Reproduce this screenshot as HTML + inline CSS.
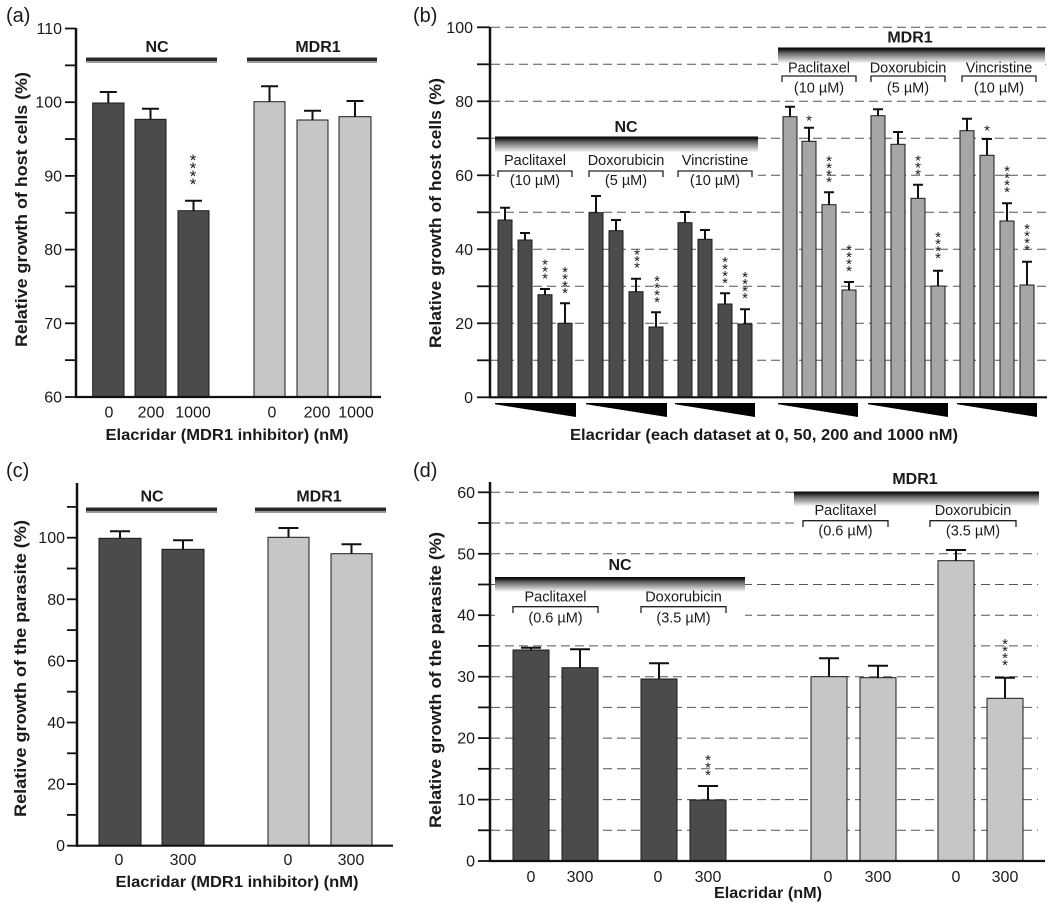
<!DOCTYPE html>
<html><head><meta charset="utf-8"><style>
html,body{margin:0;padding:0;background:#fff;}
svg{display:block;}
text{font-family:"Liberation Sans",Arial,sans-serif;fill:#1a1a1a;}
.t{font-size:16px;}
.b{font-weight:bold;font-size:16px;}
.d{font-size:14.5px;}
.s{fill:#444;}
.g{stroke:#555;stroke-width:1;stroke-dasharray:9 5;}
.ax{stroke:#111;fill:none;}
.dk{fill:#4b4b4b;stroke:#1a1a1a;stroke-width:1;}
.lt{fill:#c6c6c6;stroke:#1a1a1a;stroke-width:1;}
.md{fill:#a6a6a6;stroke:#1a1a1a;stroke-width:1;}
.e{stroke:#111;stroke-width:2;fill:none;}
.br{stroke:#222;stroke-width:1.3;fill:none;}
</style></head><body>
<svg width="1050" height="905" viewBox="0 0 1050 905" xmlns="http://www.w3.org/2000/svg">
<defs>
<linearGradient id="gr" x1="0" y1="0" x2="0" y2="1">
<stop offset="0" stop-color="#000"/><stop offset="0.15" stop-color="#222"/><stop offset="0.35" stop-color="#666"/><stop offset="1" stop-color="#fff"/>
</linearGradient>
</defs>

<!-- ================= Panel (a) ================= -->
<text x="6" y="22" style="font-size:20px">(a)</text>
<g class="ax" stroke-width="1.8">
<line x1="65" y1="397" x2="76" y2="397"/><line x1="65" y1="360.15" x2="76" y2="360.15"/>
<line x1="65" y1="323.3" x2="76" y2="323.3"/><line x1="65" y1="286.45" x2="76" y2="286.45"/>
<line x1="65" y1="249.6" x2="76" y2="249.6"/><line x1="65" y1="212.75" x2="76" y2="212.75"/>
<line x1="65" y1="175.9" x2="76" y2="175.9"/><line x1="65" y1="139.05" x2="76" y2="139.05"/>
<line x1="65" y1="102.2" x2="76" y2="102.2"/><line x1="65" y1="65.35" x2="76" y2="65.35"/>
<line x1="65" y1="28.5" x2="76" y2="28.5"/>
</g>
<g class="t" text-anchor="end">
<text x="62" y="402.5">60</text><text x="62" y="328.8">70</text><text x="62" y="255.1">80</text>
<text x="62" y="181.4">90</text><text x="62" y="107.7">100</text><text x="62" y="34">110</text>
</g>
<rect x="86" y="57.5" width="131" height="3.5" fill="#2a2a2a"/><rect x="86" y="61" width="131" height="2" fill="#999"/>
<rect x="247" y="57.5" width="130" height="3.5" fill="#2a2a2a"/><rect x="247" y="61" width="130" height="2" fill="#999"/>
<text class="b" x="157" y="52" text-anchor="middle">NC</text>
<text class="b" x="318" y="52" text-anchor="middle">MDR1</text>
<rect class="dk" x="92.7" y="103" width="31.3" height="294"/>
<rect class="dk" x="135" y="119.3" width="31" height="277.7"/>
<rect class="dk" x="178" y="210.7" width="31" height="186.3"/>
<rect class="lt" x="254" y="101.7" width="31" height="295.3"/>
<rect class="lt" x="297" y="120" width="31" height="277"/>
<rect class="lt" x="339" y="116.7" width="32" height="280.3"/>
<path class="e" d="M108.3,103V92M99.8,92H116.8 M150.5,119.3V108.7M142,108.7H159 M193.5,210.7V200.7M185,200.7H202 M269.5,101.7V86.3M261,86.3H278 M312.5,120V110.7M304,110.7H321 M355,116.7V101M346.5,101H363.5"/>
<g class="s" text-anchor="middle" style="font-size:17px">
<text x="193" y="166">*</text><text x="193" y="174">*</text><text x="193" y="182">*</text><text x="193" y="190">*</text>
</g>
<line class="ax" x1="76" y1="28" x2="76" y2="398" stroke-width="2.5"/>
<line class="ax" x1="75" y1="397" x2="381" y2="397" stroke-width="2.2"/>
<g class="t" text-anchor="middle">
<text x="109" y="417.5">0</text><text x="151" y="417.5">200</text><text x="193" y="417.5">1000</text>
<text x="272" y="417.5">0</text><text x="317" y="417.5">200</text><text x="356" y="417.5">1000</text>
</g>
<text class="b" x="227" y="440" text-anchor="middle" textLength="243" lengthAdjust="spacingAndGlyphs">Elacridar (MDR1 inhibitor) (nM)</text>
<text class="b" transform="translate(27,209.5) rotate(-90)" x="0" y="0" text-anchor="middle" style="font-size:17px" textLength="275" lengthAdjust="spacingAndGlyphs">Relative growth of host cells (%)</text>

<!-- ================= Panel (b) ================= -->
<text x="413" y="22" style="font-size:20px">(b)</text>
<g class="g">
<line x1="491" y1="360.3" x2="1047" y2="360.3"/><line x1="491" y1="323.3" x2="1047" y2="323.3"/>
<line x1="491" y1="286.3" x2="1047" y2="286.3"/><line x1="491" y1="249.3" x2="1047" y2="249.3"/>
<line x1="491" y1="212.3" x2="1047" y2="212.3"/><line x1="491" y1="175.3" x2="1047" y2="175.3"/>
<line x1="491" y1="138.3" x2="1047" y2="138.3"/><line x1="491" y1="101.3" x2="1047" y2="101.3"/>
<line x1="491" y1="64.3" x2="1047" y2="64.3"/><line x1="491" y1="27.3" x2="1047" y2="27.3"/>
</g>
<g class="ax" stroke-width="1.8">
<line x1="477" y1="397.3" x2="490" y2="397.3"/><line x1="477" y1="360.3" x2="490" y2="360.3"/>
<line x1="477" y1="323.3" x2="490" y2="323.3"/><line x1="477" y1="286.3" x2="490" y2="286.3"/>
<line x1="477" y1="249.3" x2="490" y2="249.3"/><line x1="477" y1="212.3" x2="490" y2="212.3"/>
<line x1="477" y1="175.3" x2="490" y2="175.3"/><line x1="477" y1="138.3" x2="490" y2="138.3"/>
<line x1="477" y1="101.3" x2="490" y2="101.3"/><line x1="477" y1="64.3" x2="490" y2="64.3"/>
<line x1="477" y1="27.3" x2="490" y2="27.3"/>
</g>
<g class="t" text-anchor="end">
<text x="473" y="402.8">0</text><text x="473" y="328.8">20</text><text x="473" y="254.8">40</text>
<text x="473" y="180.8">60</text><text x="473" y="106.8">80</text><text x="473" y="32.8">100</text>
</g>
<!-- label boxes -->
<rect x="495" y="136.5" width="263" height="58" fill="#fff"/>
<rect x="495" y="136.5" width="263" height="16" fill="url(#gr)"/>
<rect x="778" y="47.5" width="267" height="50" fill="#fff"/>
<rect x="778" y="47.5" width="267" height="16" fill="url(#gr)"/>
<text class="b" x="626" y="132" text-anchor="middle">NC</text>
<text class="b" x="910" y="42.7" text-anchor="middle">MDR1</text>
<g class="d" text-anchor="middle">
<text x="535" y="165">Paclitaxel</text><text x="535" y="185">(10 µM)</text>
<text x="626" y="165">Doxorubicin</text><text x="626" y="185">(5 µM)</text>
<text x="715" y="165">Vincristine</text><text x="715" y="185">(10 µM)</text>
<text x="819" y="72.7">Paclitaxel</text><text x="819" y="92.5">(10 µM)</text>
<text x="908" y="72.7">Doxorubicin</text><text x="908" y="92.5">(5 µM)</text>
<text x="999" y="72.7">Vincristine</text><text x="999" y="92.5">(10 µM)</text>
</g>
<path class="br" d="M498,177V171H572V177 M589,177V171H663V177 M678,177V171H752V177 M782,82V76H856V82 M871,82V76H945V82 M962,82V76H1036V82"/>
<!-- NC bars -->
<g>
<rect class="dk" x="498" y="220" width="14" height="177.3"/>
<rect class="dk" x="518" y="240" width="14" height="157.3"/>
<rect class="dk" x="538" y="294.7" width="14" height="102.6"/>
<rect class="dk" x="558" y="323.3" width="14" height="74"/>
<rect class="dk" x="589" y="212.7" width="14" height="184.6"/>
<rect class="dk" x="609" y="230.7" width="14" height="166.6"/>
<rect class="dk" x="629" y="291.7" width="14" height="105.6"/>
<rect class="dk" x="649" y="327" width="14" height="70.3"/>
<rect class="dk" x="678" y="222.7" width="14" height="174.6"/>
<rect class="dk" x="698" y="239.3" width="14" height="158"/>
<rect class="dk" x="718" y="304" width="14" height="93.3"/>
<rect class="dk" x="738" y="324" width="14" height="73.3"/>
</g>
<path class="e" d="M505,220V207.7M500,207.7H510 M525,240V233M520,233H530 M545,294.7V289M540,289H550 M565,323.3V303.3M560,303.3H570 M596,212.7V196M591,196H601 M616,230.7V220M611,220H621 M636,291.7V278.7M631,278.7H641 M656,327V312.3M651,312.3H661 M685,222.7V212M680,212H690 M705,239.3V230M700,230H710 M725,304V293.3M720,293.3H730 M745,324V309.3M740,309.3H750"/>
<!-- MDR1 bars -->
<g>
<rect class="md" x="783" y="116.7" width="14" height="280.6"/>
<rect class="md" x="802" y="141.3" width="14" height="256"/>
<rect class="md" x="822" y="204.7" width="14" height="192.6"/>
<rect class="md" x="842" y="290" width="14" height="107.3"/>
<rect class="md" x="871" y="115.7" width="14" height="281.6"/>
<rect class="md" x="891" y="144.3" width="14" height="253"/>
<rect class="md" x="911" y="198.3" width="14" height="199"/>
<rect class="md" x="931" y="286" width="14" height="111.3"/>
<rect class="md" x="960" y="130.7" width="14" height="266.6"/>
<rect class="md" x="980" y="155.3" width="14" height="242"/>
<rect class="md" x="1000" y="221" width="14" height="176.3"/>
<rect class="md" x="1020" y="285" width="14" height="112.3"/>
</g>
<path class="e" d="M790,116.7V106.7M785,106.7H795 M809,141.3V127.7M804,127.7H814 M829,204.7V192.3M824,192.3H834 M849,290V282M844,282H854 M878,115.7V109.3M873,109.3H883 M898,144.3V132M893,132H903 M918,198.3V184.7M913,184.7H923 M938,286V270.7M933,270.7H943 M967,130.7V118.7M962,118.7H972 M987,155.3V139M982,139H992 M1007,221V203.3M1002,203.3H1012 M1027,285V261.7M1022,261.7H1032"/>
<!-- asterisks b -->
<g class="s" text-anchor="middle" style="font-size:15px">
<text x="545" y="269.5">*</text><text x="545" y="276.5">*</text><text x="545" y="283.5">*</text>
<text x="565" y="277">*</text><text x="565" y="284">*</text><text x="565" y="291">*</text><text x="565" y="298">*</text>
<text x="637" y="259.5">*</text><text x="637" y="266">*</text><text x="637" y="272.5">*</text>
<text x="657" y="286">*</text><text x="657" y="293">*</text><text x="657" y="300">*</text><text x="657" y="307">*</text>
<text x="725" y="267">*</text><text x="725" y="274">*</text><text x="725" y="281">*</text><text x="725" y="288">*</text>
<text x="745" y="282">*</text><text x="745" y="289">*</text><text x="745" y="296">*</text><text x="745" y="303">*</text>
<text x="809" y="125.5">*</text>
<text x="829" y="166">*</text><text x="829" y="173">*</text><text x="829" y="180">*</text><text x="829" y="187">*</text>
<text x="849" y="255">*</text><text x="849" y="262">*</text><text x="849" y="269">*</text><text x="849" y="276">*</text>
<text x="918" y="165.5">*</text><text x="918" y="172.5">*</text><text x="918" y="179.5">*</text>
<text x="938" y="242">*</text><text x="938" y="249">*</text><text x="938" y="256">*</text><text x="938" y="263">*</text>
<text x="987" y="135.5">*</text>
<text x="1007" y="176">*</text><text x="1007" y="183">*</text><text x="1007" y="190">*</text><text x="1007" y="197">*</text>
<text x="1027" y="234">*</text><text x="1027" y="241">*</text><text x="1027" y="248">*</text><text x="1027" y="255">*</text>
</g>
<line class="ax" x1="490" y1="27" x2="490" y2="398" stroke-width="2.5"/>
<line class="ax" x1="489" y1="397.3" x2="1047" y2="397.3" stroke-width="2.2"/>
<g fill="#000">
<polygon points="495,403 576,403 576,417 495,404.3"/>
<polygon points="586,403 667,403 667,417 586,404.3"/>
<polygon points="675,403 755,403 755,417 675,404.3"/>
<polygon points="778,403 858,403 858,417 778,404.3"/>
<polygon points="868,403 948,403 948,417 868,404.3"/>
<polygon points="957,403 1037,403 1037,417 957,404.3"/>
</g>
<text class="b" x="764" y="440" text-anchor="middle" textLength="388" lengthAdjust="spacingAndGlyphs">Elacridar (each dataset at 0, 50, 200 and 1000 nM)</text>
<text class="b" transform="translate(441,213) rotate(-90)" x="0" y="0" text-anchor="middle" style="font-size:17px" textLength="270" lengthAdjust="spacingAndGlyphs">Relative growth of host cells (%)</text>

<!-- ================= Panel (c) ================= -->
<text x="6" y="477" style="font-size:20px">(c)</text>
<g class="ax" stroke-width="1.8">
<line x1="67" y1="845.7" x2="77" y2="845.7"/><line x1="67" y1="814.9" x2="77" y2="814.9"/>
<line x1="67" y1="784.1" x2="77" y2="784.1"/><line x1="67" y1="753.3" x2="77" y2="753.3"/>
<line x1="67" y1="722.5" x2="77" y2="722.5"/><line x1="67" y1="691.7" x2="77" y2="691.7"/>
<line x1="67" y1="660.9" x2="77" y2="660.9"/><line x1="67" y1="630.1" x2="77" y2="630.1"/>
<line x1="67" y1="599.3" x2="77" y2="599.3"/><line x1="67" y1="568.5" x2="77" y2="568.5"/>
<line x1="67" y1="537.7" x2="77" y2="537.7"/><line x1="67" y1="506.9" x2="77" y2="506.9"/>
</g>
<g class="t" text-anchor="end">
<text x="65" y="851.2">0</text><text x="65" y="789.6">20</text><text x="65" y="728">40</text>
<text x="65" y="666.4">60</text><text x="65" y="604.8">80</text><text x="65" y="543.2">100</text>
</g>
<rect x="86" y="507.5" width="131" height="3.5" fill="#2a2a2a"/><rect x="86" y="511" width="131" height="2" fill="#999"/>
<rect x="255" y="507.5" width="131" height="3.5" fill="#2a2a2a"/><rect x="255" y="511" width="131" height="2" fill="#999"/>
<text class="b" x="152" y="501.7" text-anchor="middle">NC</text>
<text class="b" x="319" y="501.7" text-anchor="middle">MDR1</text>
<rect class="dk" x="99" y="538.3" width="42" height="307.4"/>
<rect class="dk" x="162" y="549.3" width="42" height="296.4"/>
<rect class="lt" x="268" y="537.3" width="41" height="308.4"/>
<rect class="lt" x="331" y="553.7" width="41" height="292"/>
<path class="e" d="M120,538.3V531.3M110,531.3H130 M183,549.3V540.3M173,540.3H193 M288.5,537.3V528M278.5,528H298.5 M351.5,553.7V544.3M341.5,544.3H361.5"/>
<line class="ax" x1="77" y1="483" x2="77" y2="847" stroke-width="2.5"/>
<line class="ax" x1="76" y1="845.7" x2="393" y2="845.7" stroke-width="2.2"/>
<g class="t" text-anchor="middle">
<text x="119" y="865">0</text><text x="183" y="865">300</text>
<text x="288" y="865">0</text><text x="351" y="865">300</text>
</g>
<text class="b" x="237" y="887" text-anchor="middle" textLength="243" lengthAdjust="spacingAndGlyphs">Elacridar (MDR1 inhibitor) (nM)</text>
<text class="b" transform="translate(26,668.5) rotate(-90)" x="0" y="0" text-anchor="middle" style="font-size:17px" textLength="297" lengthAdjust="spacingAndGlyphs">Relative growth of the parasite (%)</text>

<!-- ================= Panel (d) ================= -->
<text x="413" y="477" style="font-size:20px">(d)</text>
<g class="g">
<line x1="491" y1="830.3" x2="1038" y2="830.3"/><line x1="491" y1="799.6" x2="1038" y2="799.6"/>
<line x1="491" y1="768.8" x2="1038" y2="768.8"/><line x1="491" y1="738.1" x2="1038" y2="738.1"/>
<line x1="491" y1="707.4" x2="1038" y2="707.4"/><line x1="491" y1="676.7" x2="1038" y2="676.7"/>
<line x1="491" y1="645.9" x2="1038" y2="645.9"/><line x1="491" y1="615.2" x2="1038" y2="615.2"/>
<line x1="491" y1="584.5" x2="1038" y2="584.5"/><line x1="491" y1="553.8" x2="1038" y2="553.8"/>
<line x1="491" y1="523" x2="1038" y2="523"/><line x1="491" y1="492.3" x2="1038" y2="492.3"/>
</g>
<g class="ax" stroke-width="1.8">
<line x1="478" y1="861" x2="490" y2="861"/><line x1="478" y1="830.3" x2="490" y2="830.3"/>
<line x1="478" y1="799.6" x2="490" y2="799.6"/><line x1="478" y1="768.8" x2="490" y2="768.8"/>
<line x1="478" y1="738.1" x2="490" y2="738.1"/><line x1="478" y1="707.4" x2="490" y2="707.4"/>
<line x1="478" y1="676.7" x2="490" y2="676.7"/><line x1="478" y1="645.9" x2="490" y2="645.9"/>
<line x1="478" y1="615.2" x2="490" y2="615.2"/><line x1="478" y1="584.5" x2="490" y2="584.5"/>
<line x1="478" y1="553.8" x2="490" y2="553.8"/><line x1="478" y1="523" x2="490" y2="523"/>
<line x1="478" y1="492.3" x2="490" y2="492.3"/>
</g>
<g class="t" text-anchor="end">
<text x="475" y="866.5">0</text><text x="475" y="805.1">10</text><text x="475" y="743.6">20</text>
<text x="475" y="682.2">30</text><text x="475" y="620.7">40</text><text x="475" y="559.3">50</text>
<text x="475" y="497.8">60</text>
</g>
<rect x="495" y="577" width="250" height="50" fill="#fff"/>
<rect x="495" y="577" width="250" height="15" fill="url(#gr)"/>
<rect x="794" y="491.5" width="245" height="52" fill="#fff"/>
<rect x="794" y="491.5" width="245" height="15" fill="url(#gr)"/>
<text class="b" x="620" y="570" text-anchor="middle">NC</text>
<text class="b" x="915" y="484" text-anchor="middle">MDR1</text>
<g class="d" text-anchor="middle">
<text x="555.5" y="601.7">Paclitaxel</text><text x="555.5" y="622.5">(0.6 µM)</text>
<text x="683.5" y="601.7">Doxorubicin</text><text x="683.5" y="622.5">(3.5 µM)</text>
<text x="845.5" y="515">Paclitaxel</text><text x="845.5" y="535.5">(0.6 µM)</text>
<text x="973" y="515">Doxorubicin</text><text x="973" y="535.5">(3.5 µM)</text>
</g>
<path class="br" d="M513,613V606.7H598V613 M641,613V606.7H726V613 M803,527V520.7H888V527 M930,527V520.7H1016V527"/>
<rect class="dk" x="513" y="650" width="36" height="211"/>
<rect class="dk" x="562" y="667.7" width="36" height="193.3"/>
<rect class="dk" x="641" y="679" width="36" height="182"/>
<rect class="dk" x="690" y="800" width="36" height="61"/>
<rect class="lt" x="811" y="676.7" width="36" height="184.3"/>
<rect class="lt" x="860" y="677.7" width="36" height="183.3"/>
<rect class="lt" x="938" y="560.7" width="36" height="300.3"/>
<rect class="lt" x="987" y="698.3" width="36" height="162.7"/>
<path class="e" d="M531,650V647.7M521,647.7H541 M580,667.7V649.3M570,649.3H590 M659,679V663.3M649,663.3H669 M708,800V786M698,786H718 M829,676.7V658.3M819,658.3H839 M878,677.7V665.7M868,665.7H888 M956,560.7V550M946,550H966 M1005,698.3V677.7M995,677.7H1015"/>
<g class="s" text-anchor="middle" style="font-size:15px">
<text x="708" y="765">*</text><text x="708" y="772.5">*</text><text x="708" y="780">*</text>
<text x="1005" y="649">*</text><text x="1005" y="656">*</text><text x="1005" y="663">*</text><text x="1005" y="670">*</text>
</g>
<line class="ax" x1="490" y1="482" x2="490" y2="862" stroke-width="2.5"/>
<line class="ax" x1="489" y1="861" x2="1045" y2="861" stroke-width="2.2"/>
<g class="t" text-anchor="middle">
<text x="531" y="882">0</text><text x="580" y="882">300</text>
<text x="658" y="882">0</text><text x="708" y="882">300</text>
<text x="828" y="882">0</text><text x="878" y="882">300</text>
<text x="956" y="882">0</text><text x="1005" y="882">300</text>
</g>
<text class="b" x="768" y="898" text-anchor="middle" textLength="108" lengthAdjust="spacingAndGlyphs">Elacridar (nM)</text>
<text class="b" transform="translate(441,680) rotate(-90)" x="0" y="0" text-anchor="middle" style="font-size:17px" textLength="296" lengthAdjust="spacingAndGlyphs">Relative growth of the parasite (%)</text>
</svg>
</body></html>
